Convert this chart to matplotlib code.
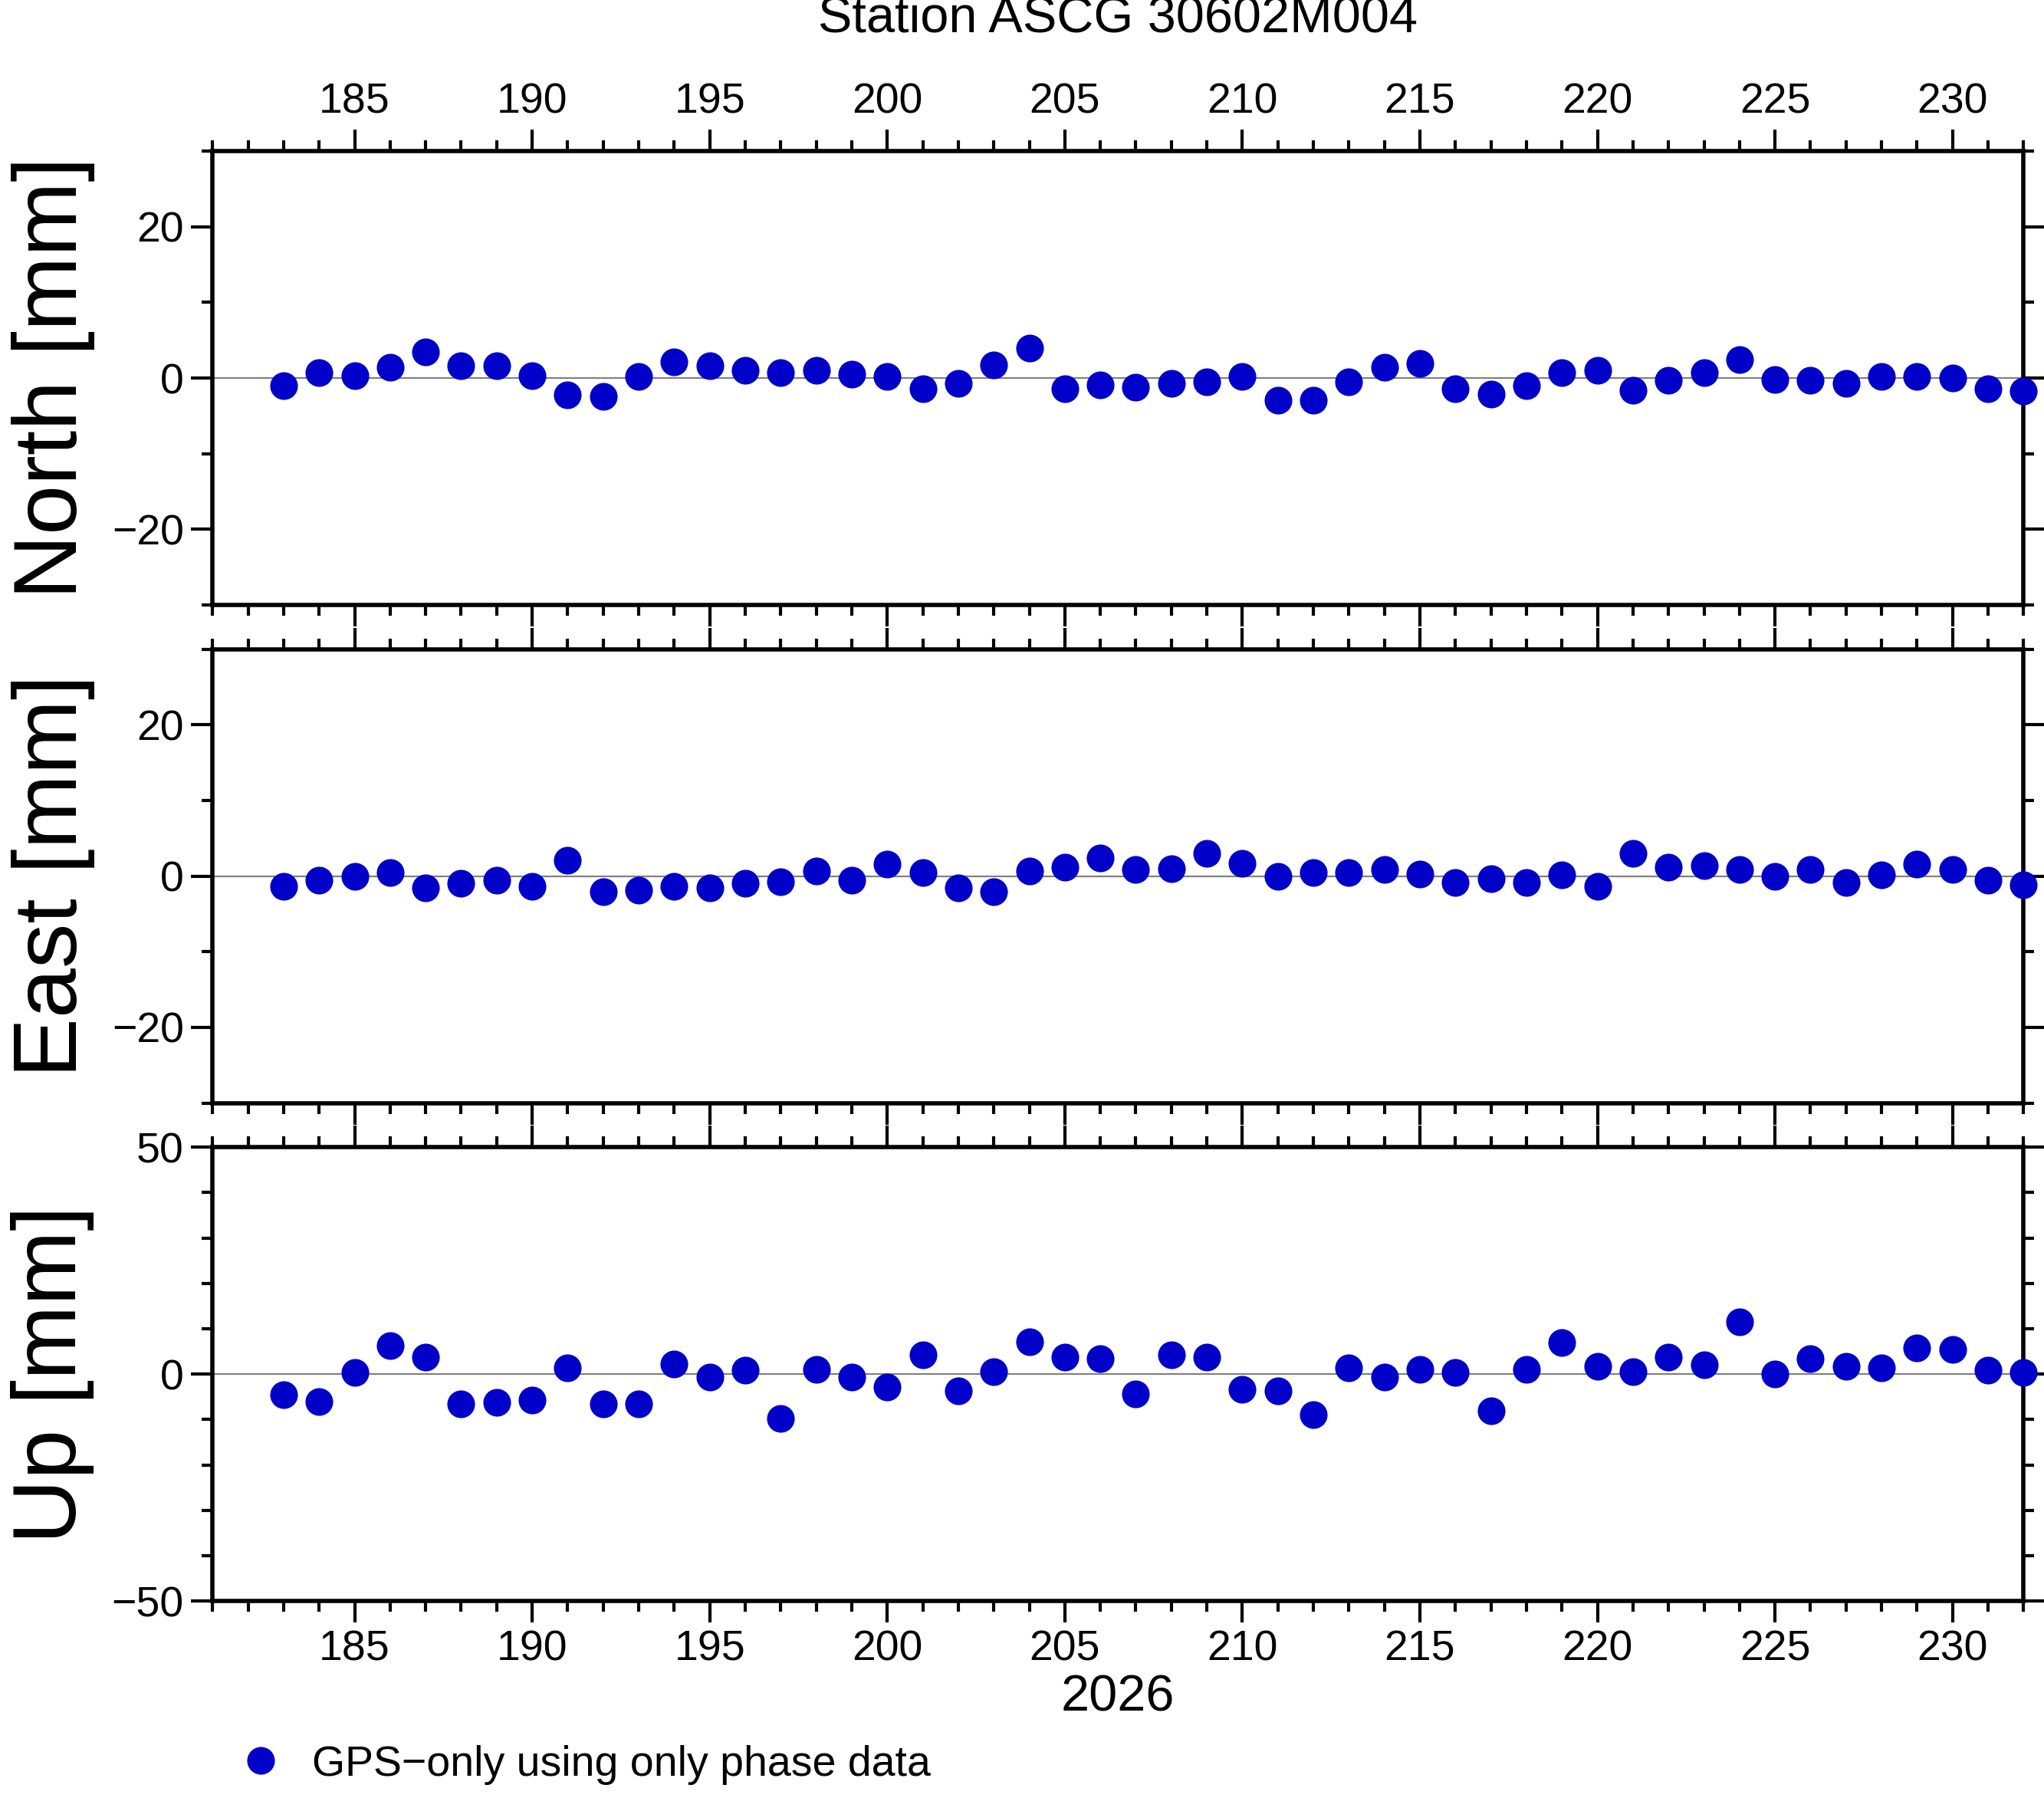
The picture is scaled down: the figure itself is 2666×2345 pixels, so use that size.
import numpy as np
import matplotlib.pyplot as plt
from matplotlib.ticker import MultipleLocator

plt.rcParams['font.family'] = ['Liberation Sans', 'DejaVu Sans']

days = np.arange(183, 233)
north = [-1.0, 0.7, 0.3, 1.4, 3.4, 1.6, 1.6, 0.3, -2.2, -2.4,
         0.2, 2.1, 1.6, 1.0, 0.7, 1.0, 0.5, 0.2, -1.4, -0.7,
         1.7, 4.0, -1.4, -0.9, -1.2, -0.7, -0.5, 0.2, -2.9, -2.9,
         -0.5, 1.4, 1.9, -1.4, -2.1, -1.0, 0.7, 1.0, -1.6, -0.3,
         0.7, 2.4, -0.2, -0.3, -0.7, 0.2, 0.2, 0.0, -1.4, -1.7]
east = [-1.4, -0.5, 0.0, 0.5, -1.6, -1.0, -0.5, -1.4, 2.1, -2.1,
        -1.9, -1.4, -1.6, -1.0, -0.7, 0.7, -0.5, 1.6, 0.5, -1.6,
        -2.1, 0.7, 1.2, 2.4, 0.9, 1.0, 3.0, 1.7, 0.0, 0.5,
        0.5, 0.9, 0.3, -0.9, -0.3, -0.9, 0.2, -1.4, 3.0, 1.2,
        1.4, 0.9, 0.0, 0.9, -0.9, 0.2, 1.6, 0.9, -0.5, -1.2]
up = [-4.6, -6.0, 0.3, 6.3, 3.7, -6.6, -6.3, -5.7, 1.4, -6.6,
      -6.6, 2.3, -0.6, 0.9, -9.8, 1.1, -0.6, -2.9, 4.3, -3.7,
      0.6, 7.2, 3.7, 3.4, -4.3, 4.3, 3.7, -3.4, -3.7, -8.9,
      1.4, -0.6, 1.1, 0.3, -8.0, 1.1, 6.9, 1.7, 0.6, 3.7,
      2.0, 11.5, 0.0, 3.4, 1.7, 1.4, 5.7, 5.5, 0.9, 0.3]

series = [("North [mm]", north, 30, 20), ("East [mm]", east, 30, 20), ("Up [mm]", up, 50, 50)]
dot_color = '#0000c8'

fig = plt.figure(figsize=(13.33, 11.725), dpi=200)
left, width = 0.104, 0.886
bottoms = [0.6635, 0.3865, 0.1095]
height = 0.2525

axes = []
for i, (label, vals, lim, major) in enumerate(series):
    ax = fig.add_axes([left, bottoms[i], width, height])
    ax.axhline(0, color='gray', lw=0.8, zorder=1)
    h, = ax.plot(days, vals, 'o', color=dot_color, ms=12, zorder=3,
                 label='GPS\u2212only using only phase data', clip_on=False)
    ax.set_xlim(181, 232)
    ax.set_ylim(-lim, lim)
    ax.xaxis.set_major_locator(MultipleLocator(5))
    ax.xaxis.set_minor_locator(MultipleLocator(1))
    ax.yaxis.set_major_locator(MultipleLocator(major))
    ax.yaxis.set_minor_locator(MultipleLocator(10))
    ax.tick_params(which='both', direction='out', top=True, right=True,
                   labelsize=20, width=1.5)
    ax.tick_params(which='major', length=10)
    ax.tick_params(which='minor', length=5)
    ax.tick_params(axis='x', labelbottom=(i == 2), labeltop=(i == 0))
    for s in ax.spines.values():
        s.set_linewidth(2)
    ax.set_ylabel(label, fontsize=42, labelpad=8)
    axes.append(ax)

axes[0].set_title('Station ASCG 30602M004', fontsize=24, pad=56)
axes[2].set_xlabel('2026', fontsize=24, labelpad=2)
fig.legend(handles=[h], loc='lower left', bbox_to_anchor=(0.088, -0.014),
           frameon=False, fontsize=20, handletextpad=0.2, markerscale=1)

fig.savefig('out.png', dpi=200)
